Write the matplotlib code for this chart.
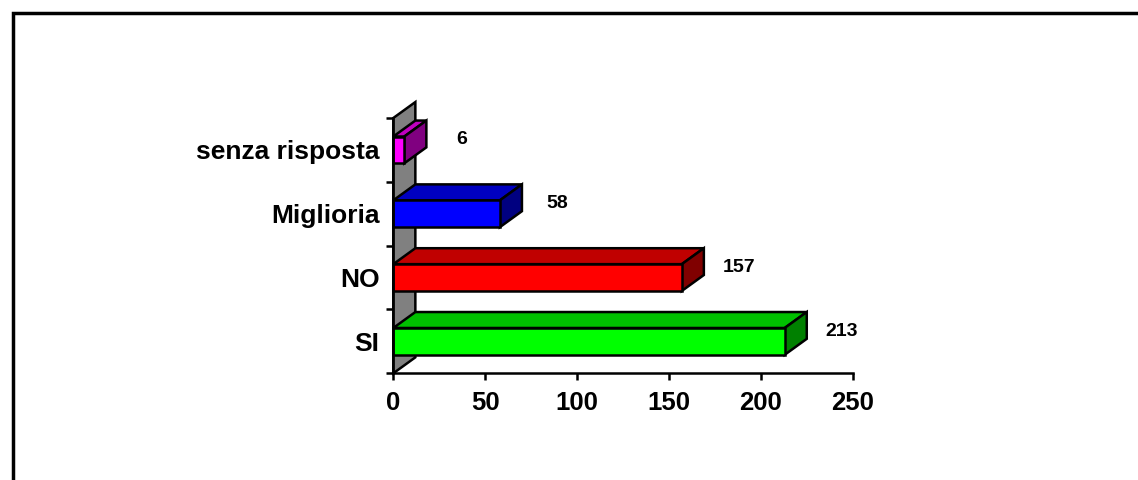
import numpy as np
import matplotlib
matplotlib.use("Agg")
import matplotlib.pyplot as plt
from matplotlib.patches import Polygon, Rectangle

# Risposte (dal basso verso l'alto)
categories = ["SI", "NO", "Miglioria", "senza risposta"]
values = [213, 157, 58, 6]

# colori: fronte, faccia superiore, fianco
front_colors = ["#00FF00", "#FF0000", "#0000FF", "#FF00FF"]
top_colors = ["#00C000", "#C00000", "#0000C0", "#C000C0"]
side_colors = ["#008000", "#800000", "#000080", "#800080"]

xticks = [0, 50, 100, 150, 200, 250]

plt.rcParams['font.family'] = ['Liberation Sans', 'DejaVu Sans']

fig = plt.figure(figsize=(11.38, 4.8), dpi=100)
ax = fig.add_axes([393.3 / 1138, 1 - 373.3 / 480, 459.4 / 1138, 255.3 / 480])

n = len(categories)
ax.set_xlim(0, 250)
ax.set_ylim(-0.5, n - 0.5)

# profondità della prospettiva (in unità dei dati)
dx = 12.0
dy = 0.25
h = 0.42
lw = 1.8

# parete di fondo grigia
wall = Polygon([(0, -0.5), (dx, -0.5 + dy), (dx, n - 0.5 + dy), (0, n - 0.5)],
               closed=True, facecolor="#808080", edgecolor="black",
               linewidth=lw, clip_on=False, zorder=1)
ax.add_patch(wall)

for i, v in enumerate(values):
    y0 = i - h / 2
    y1 = i + h / 2
    front = Polygon([(0, y0), (v, y0), (v, y1), (0, y1)], closed=True,
                    facecolor=front_colors[i], edgecolor="black",
                    linewidth=lw, clip_on=False, zorder=3)
    top = Polygon([(0, y1), (v, y1), (v + dx, y1 + dy), (dx, y1 + dy)],
                  closed=True, facecolor=top_colors[i], edgecolor="black",
                  linewidth=lw, clip_on=False, zorder=2)
    side = Polygon([(v, y0), (v + dx, y0 + dy), (v + dx, y1 + dy), (v, y1)],
                   closed=True, facecolor=side_colors[i], edgecolor="black",
                   linewidth=lw, clip_on=False, zorder=2)
    ax.add_patch(top)
    ax.add_patch(side)
    ax.add_patch(front)
    ax.annotate(str(v), xy=(v, i), xytext=(57, 10), textcoords="offset pixels",
                ha="center", va="center", fontsize=14, fontweight="bold")

# assi
for s in ["top", "right"]:
    ax.spines[s].set_visible(False)
for s in ["left", "bottom"]:
    ax.spines[s].set_linewidth(lw)
    ax.spines[s].set_zorder(4)

ax.set_xticks(xticks)
ax.set_xticklabels([str(t) for t in xticks], fontsize=18.5, fontweight="bold")
ax.tick_params(axis="x", direction="out", length=5, width=lw, pad=8)

ax.set_yticks(np.arange(n + 1) - 0.5)
ax.set_yticklabels([])
ax.tick_params(axis="y", which="major", direction="out", length=5, width=lw)
ax.set_yticks(np.arange(n), minor=True)
ax.set_yticklabels(categories, minor=True, fontsize=19, fontweight="bold")
ax.tick_params(axis="y", which="minor", length=0, pad=10)

ax.set_facecolor("none")

# cornice esterna
fig.patches.append(Rectangle((13 / 1138, -0.1), 1.2, 1 - 13 / 480 + 0.1,
                             transform=fig.transFigure, fill=False,
                             edgecolor="black", linewidth=2.5))

fig.savefig("out.png", dpi=100, facecolor="white")
